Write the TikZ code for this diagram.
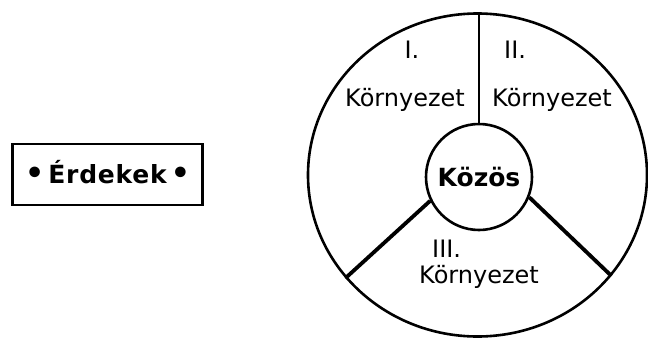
\documentclass[tikz,border=0pt]{standalone}
\usepackage{fontspec}
\setmainfont{DejaVu Sans}
\usetikzlibrary{shapes.geometric}

\begin{document}
\begin{tikzpicture}[x=1pt, y=-1pt,
  lbl/.style={font=\fontsize{24}{28}\selectfont, inner sep=0pt, anchor=base},
  wall/.style={line width=2.6pt},
  spoke/.style={line width=3.8pt}
]
\useasboundingbox (0,0) rectangle (648,343);
% the shared circle and its centre
\node[draw, wall, ellipse, inner sep=0pt, minimum width=339pt,
      minimum height=323pt] (ring) at (477.5,175) {};
\node[draw, wall, circle, inner sep=0pt, minimum size=106pt,
      font=\fontsize{25}{28}\selectfont\bfseries,
      text height=18pt, text depth=0pt] (kozos) at (479,177) {Közös};
% interests box
\node[draw, wall, inner sep=0pt, minimum width=190pt, minimum height=61pt,
      font=\fontsize{25}{28}\selectfont\bfseries\addfontfeature{LetterSpace=3},
      text height=18pt, text depth=0pt] (erdekek) at (107.5,174.5)
  {\fontsize{30}{30}\selectfont\textbullet\fontsize{25}{28}\selectfont\,Érdekek\,\fontsize{30}{30}\selectfont\textbullet};
% dividing lines
\draw[wall] (kozos.north) -- (kozos.north |- ring.north);
\draw[spoke] (kozos.206) -- (ring.218);
\draw[spoke] (kozos.338) -- (ring.323);
% sector labels
\node[lbl] (n1) at (412,58) {I.};
\node[lbl] (k1) at (405,106) {Környezet};
\node[lbl, anchor=base west] (n2) at (504,58) {II.};
\node[lbl] (k2) at (552,106) {Környezet};
\node[lbl, anchor=base west] (n3) at (432,257) {III.};
\node[lbl] (k3) at (479,283) {Környezet};
\end{tikzpicture}
\end{document}
